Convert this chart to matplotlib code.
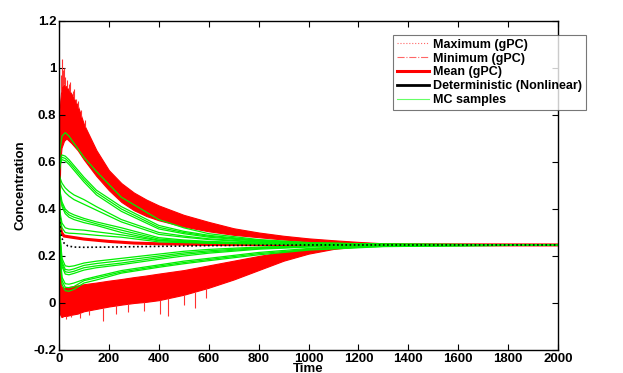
import numpy as np
import matplotlib.pyplot as plt
from matplotlib.lines import Line2D

plt.rcParams['font.family'] = ['Liberation Sans', 'DejaVu Sans']
plt.rcParams['font.weight'] = 'bold'

# time grid for the red envelope bands
t_band = [0, 5, 10, 20, 30, 50, 75, 100, 150, 200, 250, 300, 350, 400, 500, 600, 700,
          800, 900, 1000, 1100, 1200, 1300, 1400, 1600, 2000]
max_hi = [0.75, 0.86, 0.92, 0.93, 0.92, 0.89, 0.84, 0.76, 0.65, 0.565, 0.51, 0.47, 0.44, 0.415,
          0.375, 0.345, 0.318, 0.30, 0.286, 0.275, 0.267, 0.26, 0.254, 0.25, 0.248, 0.248]
max_lo = [0.35, 0.60, 0.66, 0.69, 0.70, 0.68, 0.65, 0.61, 0.54, 0.48, 0.43, 0.395, 0.37, 0.352,
          0.325, 0.305, 0.29, 0.28, 0.27, 0.262, 0.257, 0.253, 0.25, 0.248, 0.247, 0.247]
min_hi = [0.30, 0.12, 0.07, 0.065, 0.067, 0.07, 0.075, 0.08, 0.087, 0.095, 0.102, 0.11, 0.117, 0.125,
          0.14, 0.16, 0.18, 0.20, 0.218, 0.232, 0.241, 0.246, 0.248, 0.248, 0.248, 0.248]
min_lo = [-0.02, -0.05, -0.06, -0.055, -0.055, -0.05, -0.045, -0.035, -0.025, -0.015, -0.007, 0.0, 0.005,
          0.012, 0.035, 0.065, 0.10, 0.14, 0.18, 0.21, 0.23, 0.241, 0.245, 0.247, 0.247, 0.247]

# isolated noise spikes of the max / min curves
t_spike_hi = [8, 12, 16, 20, 26, 32, 40, 46, 55, 62, 70, 78, 90, 105]
spike_hi = [0.97, 1.04, 0.99, 1.0, 0.96, 0.95, 0.93, 0.94, 0.9, 0.91, 0.87, 0.86, 0.82, 0.78]
t_spike_lo = [30, 48, 84, 120, 176, 230, 277, 340, 405, 437, 500, 545, 590]
spike_lo = [-0.07, -0.06, -0.065, -0.05, -0.075, -0.045, -0.04, -0.035, -0.048, -0.055, -0.01, -0.02, 0.02]

# mean (gPC) and deterministic solution
t_mean = [0, 5, 10, 20, 50, 100, 200, 300, 400, 600, 1000, 2000]
mean_gpc = [0.38, 0.33, 0.30, 0.285, 0.28, 0.272, 0.262, 0.255, 0.252, 0.249, 0.248, 0.247]
t_det = [0, 5, 10, 20, 35, 60, 100, 200, 400, 600, 800, 1000, 2000]
det = [0.38, 0.32, 0.28, 0.255, 0.243, 0.238, 0.237, 0.238, 0.241, 0.244, 0.246, 0.247, 0.247]

# Monte Carlo sample trajectories
t_mc = [0, 5, 12, 25, 40, 60, 100, 150, 250, 400, 500, 600, 800, 1000, 1300, 2000]
mc_samples = [
    [0.58, 0.66, 0.71, 0.725, 0.71, 0.68, 0.62, 0.56, 0.45, 0.355, 0.32, 0.295, 0.27, 0.257, 0.25, 0.247],
    [0.56, 0.61, 0.63, 0.625, 0.61, 0.585, 0.535, 0.48, 0.41, 0.33, 0.305, 0.288, 0.267, 0.256, 0.25, 0.247],
    [0.55, 0.60, 0.62, 0.615, 0.60, 0.575, 0.525, 0.47, 0.40, 0.322, 0.30, 0.284, 0.265, 0.255, 0.25, 0.247],
    [0.55, 0.59, 0.61, 0.605, 0.59, 0.565, 0.515, 0.46, 0.39, 0.315, 0.295, 0.28, 0.263, 0.254, 0.249, 0.247],
    [0.55, 0.53, 0.51, 0.49, 0.475, 0.46, 0.44, 0.41, 0.355, 0.30, 0.285, 0.273, 0.26, 0.253, 0.249, 0.247],
    [0.54, 0.51, 0.49, 0.47, 0.455, 0.44, 0.42, 0.395, 0.345, 0.292, 0.28, 0.27, 0.258, 0.252, 0.249, 0.247],
    [0.52, 0.47, 0.43, 0.40, 0.385, 0.375, 0.36, 0.345, 0.32, 0.278, 0.268, 0.262, 0.255, 0.251, 0.248, 0.247],
    [0.51, 0.46, 0.42, 0.39, 0.375, 0.365, 0.352, 0.337, 0.31, 0.272, 0.265, 0.26, 0.254, 0.25, 0.248, 0.247],
    [0.50, 0.45, 0.41, 0.38, 0.365, 0.355, 0.342, 0.33, 0.30, 0.267, 0.262, 0.258, 0.253, 0.25, 0.248, 0.247],
    [0.45, 0.38, 0.34, 0.32, 0.315, 0.313, 0.31, 0.303, 0.29, 0.265, 0.26, 0.256, 0.252, 0.249, 0.248, 0.247],
    [0.43, 0.36, 0.32, 0.30, 0.297, 0.296, 0.293, 0.288, 0.28, 0.26, 0.257, 0.254, 0.251, 0.249, 0.248, 0.247],
    [0.42, 0.28, 0.19, 0.158, 0.155, 0.158, 0.17, 0.178, 0.19, 0.208, 0.22, 0.228, 0.238, 0.243, 0.246, 0.247],
    [0.41, 0.27, 0.175, 0.143, 0.14, 0.145, 0.16, 0.168, 0.18, 0.20, 0.213, 0.222, 0.235, 0.242, 0.246, 0.247],
    [0.40, 0.26, 0.165, 0.133, 0.13, 0.135, 0.15, 0.158, 0.17, 0.193, 0.207, 0.217, 0.232, 0.24, 0.245, 0.247],
    [0.39, 0.25, 0.155, 0.123, 0.12, 0.126, 0.14, 0.15, 0.163, 0.186, 0.20, 0.212, 0.229, 0.238, 0.245, 0.247],
    [0.37, 0.21, 0.11, 0.082, 0.08, 0.085, 0.10, 0.113, 0.138, 0.162, 0.178, 0.19, 0.215, 0.232, 0.243, 0.247],
    [0.36, 0.20, 0.095, 0.067, 0.065, 0.07, 0.095, 0.107, 0.132, 0.157, 0.172, 0.185, 0.21, 0.228, 0.241, 0.247],
    [0.35, 0.19, 0.08, 0.052, 0.05, 0.058, 0.085, 0.098, 0.127, 0.152, 0.167, 0.18, 0.205, 0.225, 0.24, 0.247],
]

y_ticks = [-0.2, 0, 0.2, 0.4, 0.6, 0.8, 1, 1.2]
y_tick_labels = ['-0.2', '0', '0.2', '0.4', '0.6', '0.8', '1', '1.2']
x_ticks = [0, 200, 400, 600, 800, 1000, 1200, 1400, 1600, 1800, 2000]

fig = plt.figure(figsize=(6.23, 3.73), dpi=100)
ax = fig.add_axes([0.0947, 0.0617, 0.801, 0.882])

ax.fill_between(t_band, max_lo, max_hi, color='#ff0000', lw=0.8, edgecolor='#ff0000')
ax.fill_between(t_band, min_lo, min_hi, color='#ff0000', lw=0.8, edgecolor='#ff0000')
hi_base = np.interp(t_spike_hi, t_band, max_hi)
lo_base = np.interp(t_spike_lo, t_band, min_lo)
ax.vlines(t_spike_hi, hi_base, spike_hi, color='#ff3030', lw=0.8)
ax.vlines(t_spike_lo, spike_lo, lo_base, color='#ff3030', lw=0.8)
ax.plot(t_mean, mean_gpc, color='#ff0000', lw=2.2)
for s in mc_samples:
    ax.plot(t_mc, s, color='#00ee00', lw=0.9)
ax.plot(t_det, det, color='black', lw=1.2, ls=(0, (1, 1.5)))

ax.set_xlim(0, 2000)
ax.set_ylim(-0.2, 1.2)
ax.set_xticks(x_ticks)
ax.set_yticks(y_ticks)
ax.set_yticklabels(y_tick_labels)
ax.tick_params(direction='in', top=True, right=True, labelsize=9.5, pad=2, length=4)
for lab in ax.get_xticklabels() + ax.get_yticklabels():
    lab.set_fontweight('bold')
for sp in ax.spines.values():
    sp.set_linewidth(1.0)
ax.set_xlabel('Time', fontsize=9.5, fontweight='bold', labelpad=-1)
ax.set_ylabel('Concentration', fontsize=9.5, fontweight='bold', labelpad=5)

handles = [
    Line2D([], [], color='#ff6666', lw=0.8, ls=':'),
    Line2D([], [], color='#ff6666', lw=0.8, ls='-.'),
    Line2D([], [], color='#ff0000', lw=2.2),
    Line2D([], [], color='black', lw=2.0),
    Line2D([], [], color='#66ff66', lw=0.8),
]
labels = ['Maximum (gPC)', 'Minimum (gPC)', 'Mean (gPC)',
          'Deterministic (Nonlinear)', 'MC samples']
leg = ax.legend(handles, labels, loc='upper left',
                bbox_to_anchor=(393 / 623, 1 - 35 / 373), bbox_transform=fig.transFigure,
                prop={'size': 9, 'weight': 'bold'}, frameon=True, fancybox=False,
                handlelength=2.6, handletextpad=0.3, labelspacing=0.15,
                borderpad=0.3, borderaxespad=0)
leg.get_frame().set_edgecolor('#555555')
leg.get_frame().set_linewidth(0.8)

fig.savefig('out.png', dpi=100)
